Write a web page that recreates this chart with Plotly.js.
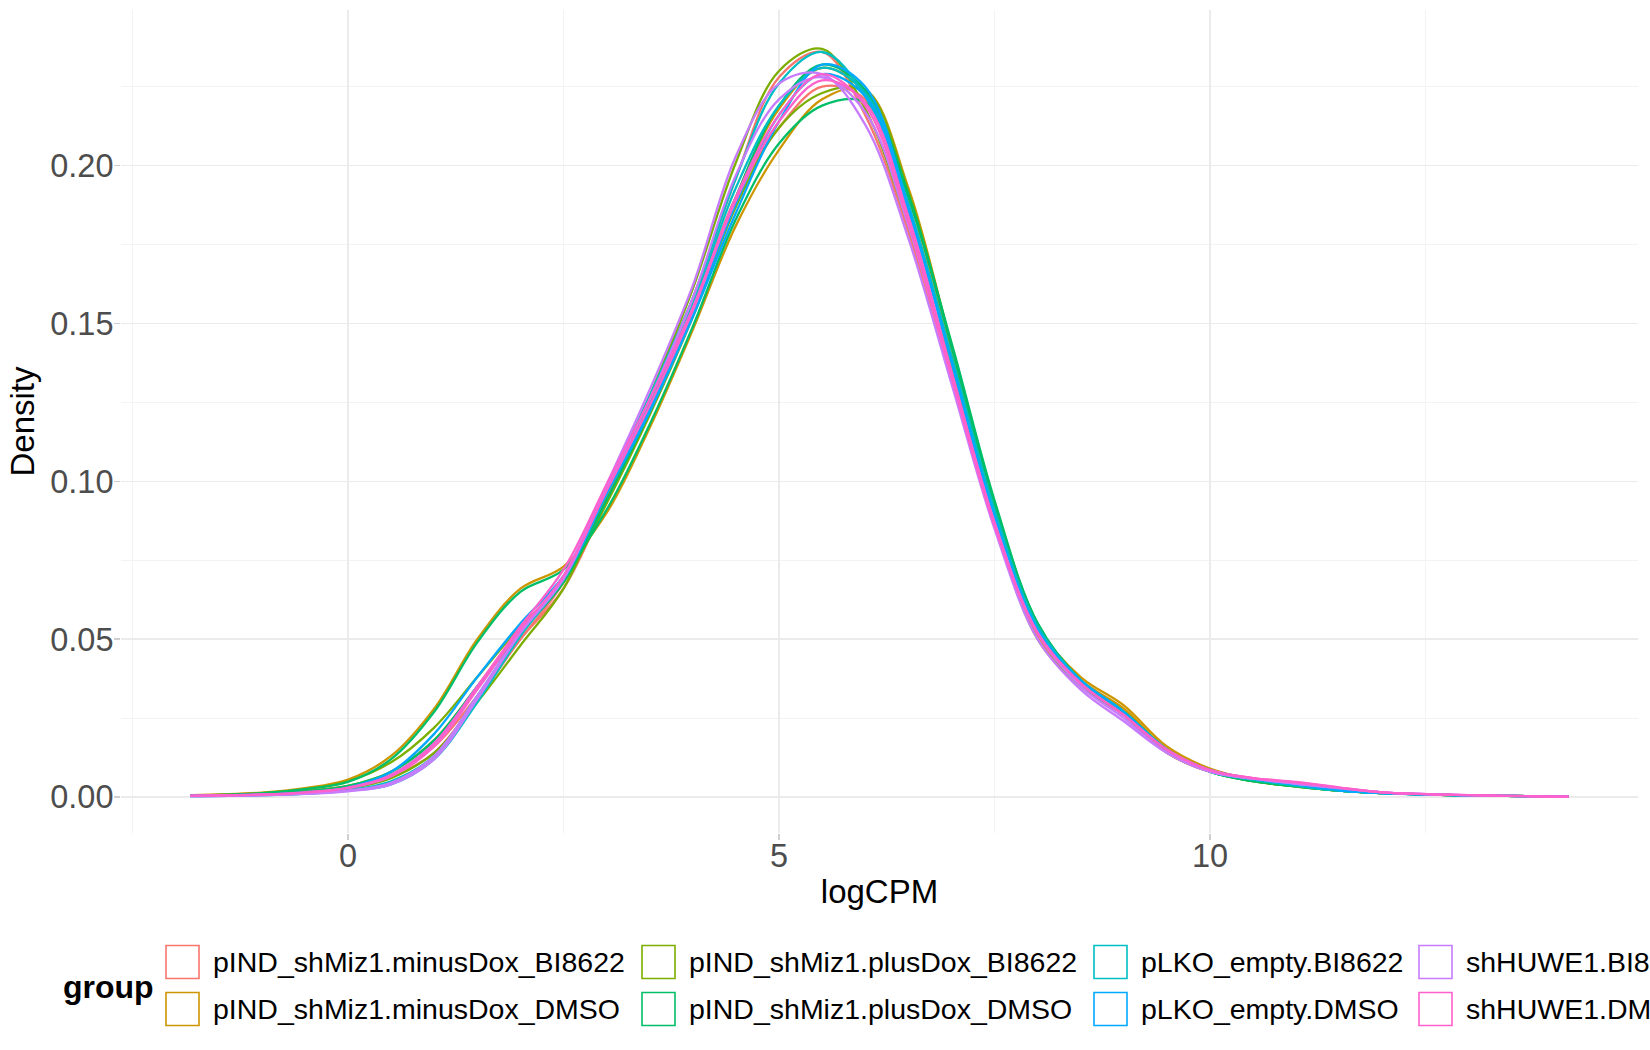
<!DOCTYPE html>
<html>
<head>
<meta charset="utf-8">
<script src="https://cdn.plot.ly/plotly-3.0.1.min.js"></script>
<style>
  body { margin: 0; background: #fff; }
  #plot { width: 1650px; height: 1050px; }
</style>
</head>
<body>
<div id="plot"></div>
<script>
var logCPM = [-1.83, -1, -0.5, 0, 0.5, 1, 1.5, 2, 2.5, 3, 3.5, 4, 4.5, 5, 5.5, 6,
              6.5, 7, 7.5, 8, 8.5, 9, 9.5, 10, 10.5, 11, 11.5, 12, 13, 14.16];

var groups = ['pIND_shMiz1.minusDox_BI8622', 'pIND_shMiz1.minusDox_DMSO',
              'pIND_shMiz1.plusDox_BI8622', 'pIND_shMiz1.plusDox_DMSO',
              'pLKO_empty.BI8622', 'pLKO_empty.DMSO',
              'shHUWE1.BI8622', 'shHUWE1.DMSO'];
var groupColors = ['#F8766D', '#CD9600', '#7CAE00', '#00BE67',
                   '#00BFC4', '#00A9FF', '#C77CFF', '#FF61CC'];

// density per sample (2 replicates per group)
var minusDoxBI_1 = [0.0004, 0.0009, 0.0016, 0.003, 0.0065, 0.014, 0.031, 0.05, 0.068, 0.097, 0.127, 0.158, 0.196, 0.228, 0.236, 0.216, 0.179, 0.133, 0.086, 0.051, 0.035, 0.026, 0.014, 0.008, 0.0055, 0.0035, 0.002, 0.0012, 0.0005, 0.0001];
var minusDoxBI_2 = [0.0004, 0.0009, 0.0017, 0.0032, 0.007, 0.016, 0.032, 0.05, 0.066, 0.094, 0.124, 0.155, 0.19, 0.212, 0.225, 0.221, 0.186, 0.139, 0.089, 0.052, 0.036, 0.026, 0.014, 0.008, 0.0055, 0.0036, 0.002, 0.0012, 0.0005, 0.0001];
var minusDoxDMSO_1 = [0.0006, 0.0014, 0.0028, 0.0055, 0.013, 0.028, 0.05, 0.066, 0.073, 0.09, 0.117, 0.148, 0.181, 0.205, 0.221, 0.224, 0.193, 0.143, 0.092, 0.054, 0.038, 0.029, 0.016, 0.009, 0.0055, 0.0035, 0.002, 0.0012, 0.0005, 0.0001];
var minusDoxDMSO_2 = [0.0005, 0.001, 0.002, 0.0035, 0.008, 0.018, 0.035, 0.053, 0.068, 0.095, 0.123, 0.154, 0.19, 0.218, 0.231, 0.223, 0.19, 0.142, 0.091, 0.053, 0.037, 0.028, 0.015, 0.008, 0.0055, 0.0035, 0.002, 0.0012, 0.0005, 0.0001];
var plusDoxBI_1 = [0.0004, 0.0008, 0.0015, 0.0027, 0.006, 0.014, 0.03, 0.048, 0.066, 0.096, 0.127, 0.161, 0.201, 0.23, 0.237, 0.218, 0.181, 0.136, 0.087, 0.05, 0.035, 0.026, 0.014, 0.008, 0.005, 0.0033, 0.002, 0.0012, 0.0005, 0.0001];
var plusDoxBI_2 = [0.0005, 0.0012, 0.0025, 0.005, 0.011, 0.022, 0.038, 0.054, 0.068, 0.093, 0.121, 0.152, 0.187, 0.212, 0.223, 0.224, 0.192, 0.143, 0.092, 0.053, 0.036, 0.027, 0.015, 0.008, 0.005, 0.0033, 0.002, 0.0012, 0.0005, 0.0001];
var plusDoxDMSO_1 = [0.0005, 0.0012, 0.0025, 0.0048, 0.012, 0.027, 0.049, 0.065, 0.072, 0.091, 0.118, 0.149, 0.183, 0.207, 0.219, 0.22, 0.19, 0.144, 0.094, 0.055, 0.037, 0.027, 0.015, 0.008, 0.005, 0.0034, 0.002, 0.0012, 0.0005, 0.0001];
var plusDoxDMSO_2 = [0.0004, 0.0009, 0.0018, 0.0035, 0.008, 0.018, 0.035, 0.052, 0.068, 0.094, 0.122, 0.154, 0.19, 0.219, 0.232, 0.224, 0.191, 0.143, 0.093, 0.055, 0.037, 0.027, 0.015, 0.008, 0.005, 0.0034, 0.002, 0.0012, 0.0005, 0.0001];
var pLKOBI_1 = [0.0003, 0.0006, 0.001, 0.002, 0.004, 0.012, 0.03, 0.051, 0.069, 0.098, 0.127, 0.158, 0.196, 0.226, 0.236, 0.222, 0.186, 0.139, 0.09, 0.054, 0.037, 0.027, 0.015, 0.008, 0.0055, 0.0036, 0.002, 0.0012, 0.0005, 0.0001];
var pLKOBI_2 = [0.0003, 0.0006, 0.0011, 0.0022, 0.005, 0.013, 0.032, 0.052, 0.069, 0.097, 0.125, 0.156, 0.193, 0.219, 0.231, 0.223, 0.188, 0.14, 0.091, 0.054, 0.037, 0.027, 0.015, 0.008, 0.0055, 0.0036, 0.002, 0.0012, 0.0005, 0.0001];
var pLKODMSO_1 = [0.0004, 0.0008, 0.0015, 0.003, 0.008, 0.02, 0.038, 0.055, 0.07, 0.096, 0.122, 0.152, 0.185, 0.214, 0.232, 0.225, 0.187, 0.138, 0.089, 0.053, 0.037, 0.027, 0.015, 0.0085, 0.0058, 0.004, 0.0022, 0.0012, 0.0005, 0.0001];
var pLKODMSO_2 = [0.0004, 0.0008, 0.0014, 0.0028, 0.007, 0.017, 0.035, 0.053, 0.069, 0.096, 0.123, 0.153, 0.188, 0.216, 0.229, 0.222, 0.186, 0.138, 0.089, 0.053, 0.036, 0.026, 0.015, 0.0085, 0.0058, 0.004, 0.0022, 0.0012, 0.0005, 0.0001];
var huweBI_1 = [0.0003, 0.0006, 0.001, 0.0018, 0.004, 0.012, 0.031, 0.052, 0.07, 0.099, 0.129, 0.162, 0.203, 0.226, 0.229, 0.213, 0.177, 0.131, 0.085, 0.05, 0.034, 0.024, 0.014, 0.008, 0.0058, 0.0042, 0.0028, 0.0015, 0.0006, 0.0001];
var huweBI_2 = [0.0003, 0.0006, 0.0011, 0.002, 0.0045, 0.013, 0.032, 0.052, 0.069, 0.098, 0.126, 0.158, 0.197, 0.221, 0.228, 0.217, 0.181, 0.134, 0.087, 0.052, 0.035, 0.025, 0.014, 0.008, 0.0058, 0.0042, 0.0028, 0.0015, 0.0006, 0.0001];
var huweDMSO_1 = [0.0004, 0.0008, 0.0015, 0.003, 0.007, 0.017, 0.035, 0.054, 0.072, 0.099, 0.126, 0.155, 0.19, 0.216, 0.229, 0.219, 0.182, 0.133, 0.086, 0.052, 0.036, 0.026, 0.015, 0.0085, 0.006, 0.0048, 0.003, 0.0015, 0.0006, 0.0001];
var huweDMSO_2 = [0.0004, 0.0008, 0.0014, 0.0028, 0.0065, 0.016, 0.034, 0.053, 0.07, 0.097, 0.124, 0.154, 0.189, 0.214, 0.227, 0.22, 0.184, 0.135, 0.087, 0.052, 0.036, 0.026, 0.015, 0.0085, 0.006, 0.0046, 0.003, 0.0015, 0.0006, 0.0001];

// [group index, density]
var samples = [
  [0, minusDoxBI_1], [0, minusDoxBI_2],
  [1, minusDoxDMSO_1], [1, minusDoxDMSO_2],
  [2, plusDoxBI_1], [2, plusDoxBI_2],
  [3, plusDoxDMSO_1], [3, plusDoxDMSO_2],
  [4, pLKOBI_1], [4, pLKOBI_2],
  [5, pLKODMSO_1], [5, pLKODMSO_2],
  [6, huweBI_1], [6, huweBI_2],
  [7, huweDMSO_1], [7, huweDMSO_2]
];

var font = 'Liberation Sans, Arial, sans-serif';

// plot area in pixels, used to place the hand made legend
var W = 1650, H = 1050;
var mar = {l: 121, r: 12, t: 10, b: 217};
function px(x) { return (x - mar.l) / (W - mar.l - mar.r); }
function py(y) { return (H - mar.b - y) / (H - mar.t - mar.b); }

var traces = samples.map(function (s) {
  return {
    x: logCPM, y: s[1], type: 'scatter', mode: 'lines',
    line: {color: groupColors[s[0]], width: 2.3, shape: 'spline', smoothing: 1},
    showlegend: false, hoverinfo: 'skip'
  };
});

var shapes = [];
var annotations = [];
var colX = [166, 642, 1094, 1419];
var rowY = [962, 1009];
var key = 33;
groups.forEach(function (g, i) {
  var cx = colX[Math.floor(i / 2)], cy = rowY[i % 2];
  shapes.push({type: 'rect', xref: 'paper', yref: 'paper',
    x0: px(cx), x1: px(cx + key), y0: py(cy + key / 2), y1: py(cy - key / 2),
    line: {color: groupColors[i], width: 1.6}, fillcolor: 'rgba(0,0,0,0)'});
  annotations.push({xref: 'paper', yref: 'paper', x: px(cx + key + 12), y: py(cy),
    xanchor: 'left', yanchor: 'middle', showarrow: false, text: g,
    font: {family: font, size: 28.5, color: '#000'}});
});
annotations.push({xref: 'paper', yref: 'paper', x: px(61), y: py(987),
  xanchor: 'left', yanchor: 'middle', showarrow: false, text: '<b>group</b>',
  font: {family: font, size: 32, color: '#000'}});

var layout = {
  width: W, height: H,
  margin: mar,
  paper_bgcolor: '#fff', plot_bgcolor: '#fff',
  font: {family: font},
  xaxis: {
    range: [-2.633, 14.965], tick0: 0, dtick: 5,
    showgrid: true, gridcolor: '#EBEBEB', gridwidth: 1.6, zeroline: false, showline: false,
    ticks: 'outside', ticklen: 6, tickwidth: 1.5, tickcolor: '#CFCFCF',
    ticklabelstandoff: -12,
    minor: {dtick: 2.5, showgrid: true, gridcolor: '#F3F3F3', gridwidth: 1},
    tickfont: {family: font, size: 32.5, color: '#4D4D4D'},
    title: {text: 'logCPM', font: {family: font, size: 33, color: '#000'}, standoff: 6}
  },
  yaxis: {
    range: [-0.0114, 0.2493], tick0: 0, dtick: 0.05, tickformat: '.2f',
    showgrid: true, gridcolor: '#EBEBEB', gridwidth: 1.6, zeroline: false, showline: false,
    ticks: 'outside', ticklen: 6, tickwidth: 1.5, tickcolor: '#CFCFCF',
    ticklabelstandoff: -6,
    minor: {dtick: 0.025, showgrid: true, gridcolor: '#F3F3F3', gridwidth: 1},
    tickfont: {family: font, size: 32.5, color: '#4D4D4D'},
    title: {text: 'Density', font: {family: font, size: 33, color: '#000'}, standoff: 5}
  },
  shapes: shapes,
  annotations: annotations,
  showlegend: false
};

Plotly.newPlot('plot', traces, layout, {displayModeBar: false, staticPlot: true});
</script>
</body>
</html>
